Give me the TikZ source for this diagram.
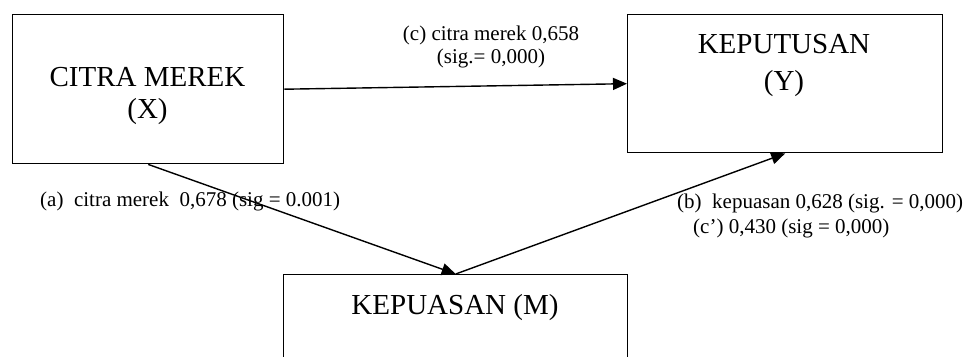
\documentclass[tikz,border=0pt]{standalone}
\usepackage{fontspec}
\setmainfont{Liberation Serif}
\usetikzlibrary{arrows.meta}
\begin{document}
\begin{tikzpicture}[x=1pt,y=-1pt,
  box/.style={draw,line width=1.4pt,rectangle,inner sep=0pt,anchor=north west},
  big/.style={font=\fontsize{29}{32}\selectfont,anchor=base,inner sep=0pt},
  lab/.style={font=\fontsize{21}{24}\selectfont,anchor=base west,inner sep=0pt},
  arr/.style={line width=1.4pt,-{Triangle[length=14pt,width=12pt]}}]
\clip (0,0) rectangle (971,356);
\fill[white] (0,0) rectangle (971,356);
\node[box,minimum width=271pt,minimum height=149pt] (X) at (12,14) {};
\node[box,minimum width=315pt,minimum height=138pt] (Y) at (627,14) {};
\node[box,minimum width=344pt,minimum height=110pt] (M) at (283,274) {};
\node[big] (x1) at (147.5,86) {CITRA MEREK};
\node[big] (x2) at (147.5,118) {(X)};
\node[big] (y1) at (784,53) {KEPUTUSAN};
\node[big] (y2) at (784,90) {(Y)};
\node[big] (m1) at (455,314) {KEPUASAN (M)};
\draw[arr] (X.east) -- (Y.west);
\draw[arr] (X.south) -- (M.north);
\draw[arr] (M.north) -- (Y.south);
\node[lab,anchor=base] (c1) at (491,40) {(c) citra merek 0,658};
\node[lab,anchor=base] (c2) at (491,63) {(sig.= 0,000)};
\node[lab] (a1) at (40,206) {(a)\ \ citra merek\ \ 0,678 (sig = 0.001)};
\node[lab] (b1) at (677,208) {(b)\ \ kepuasan 0,628 (sig. = 0,000)};
\node[lab] (b2) at (693,233) {(c’) 0,430 (sig = 0,000)};
\end{tikzpicture}
\end{document}
